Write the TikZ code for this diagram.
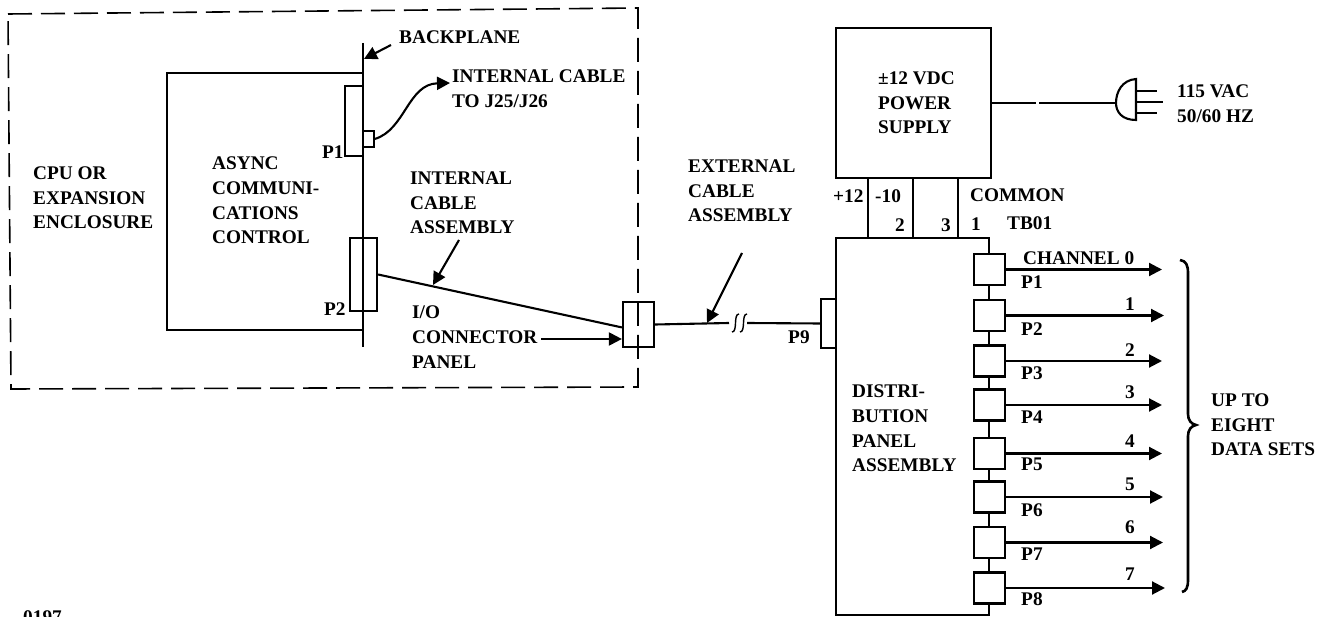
\documentclass[tikz,border=0pt]{standalone}
\usepackage{fontspec}
\setmainfont{Liberation Serif}
\usetikzlibrary{arrows.meta, positioning}
\tikzset{
  wire/.style={line width=2.1pt},
  dashline/.style={line width=1.6pt, dash pattern=on 24pt off 9pt},
  boxn/.style={draw, line width=2.2pt, inner sep=0pt, minimum width=#1},
  arr/.style={line width=2.1pt, -{Stealth[inset=0pt,length=13pt,width=13pt]}},
  lab/.style={anchor=west, inner sep=0pt, align=left, font=\bfseries\fontsize{19.3}{24.7}\selectfont},
}

\begin{document}
\begin{tikzpicture}[x=1pt, y=-1pt]
  \useasboundingbox (0,0) rectangle (1331,617);

  % enclosure and card
  \draw[dashline] (8,14) -- (638,8) -- (638,387) -- (11,389) -- cycle;
  \coordinate (bptop) at (363,43);
  \coordinate (bpbot) at (363,347);
  \draw[wire] (bptop) -- (bpbot);
  \draw[line width=2.2pt] (363,73) -- (167,73) -- (167,330) -- (363,330);

  % connectors on the backplane
  \node[boxn=18pt, minimum height=70pt] (pa) at (354,121) {};
  \node[boxn=27pt, minimum height=73pt] (pb) at (363.5,274.5) {};
  \node[boxn=11pt, minimum height=16pt, line width=1.4pt] (sm) at (368.5,139) {};
  \node[boxn=31pt, minimum height=45pt] (ioc) at (638.5,324.5) {};
  \node[boxn=15pt, minimum height=49pt] (pn) at (828.5,323.5) {};

  % power supply and distribution panel
  \node[boxn=155pt, minimum height=150pt] (pwr) at (913.5,103) {};
  \node[boxn=153pt, minimum height=377pt] (dist) at (912.5,426.5) {};
  \foreach \wx in {868,913,958}
    \draw[wire] (pwr.south -| \wx,0) -- (dist.north -| \wx,0);

  % channels
  \foreach \ch/\cy/\tip/\py in {0/269.5/1162/282, 1/315.5/1164/329, 2/361/1162/373, 3/405/1162/417,
                                4/453.5/1162/464, 5/497/1163/510, 6/542.5/1163/554, 7/588/1165/599} {
    \pgfmathtruncatemacro{\pn}{\ch+1}
    \node[boxn=31pt, minimum height=31pt, fill=white] (c\ch) at (989.5,\cy) {};
    \coordinate (t\ch) at (\tip,\cy);
    \draw[arr] (c\ch.east) -- (t\ch);
    \node[lab] (pl\ch) at (1021,\py) {P\pn};
  }
  \foreach \ch/\ny in {1/304, 2/350, 3/392, 4/441, 5/484, 6/527, 7/574}
    \node[lab] (n\ch) at (1125,\ny) {\ch};

  % cables
  \draw[wire] (pb.east) -- (ioc.190);
  \coordinate (cabtip) at (450,83);
  \draw[arr] (sm.east) .. controls (405,130) and (408,84) .. (cabtip);
  \coordinate (brka) at (729,323);
  \coordinate (brkb) at (747,323);
  \draw[wire] (ioc.east) -- (brka);
  \draw[wire] (brkb) -- (pn.west);
  \draw[line width=1.4pt] (732,332) .. controls (738,332) and (733,314) .. (739,314);
  \draw[line width=1.4pt] (740,332) .. controls (746,332) and (741,314) .. (747,314);

  % plug
  \coordinate (gapa) at (1036,103);
  \coordinate (gapb) at (1039,103);
  \coordinate (plg) at (1116,103);
  \draw[wire] (pwr.east) -- (gapa);
  \draw[wire] (gapb) -- (plg);
  \draw[wire] (1136,79) .. controls (1122,80) and (1116,92) .. (plg)
    .. controls (1116,112) and (1122,120) .. (1136,120) -- cycle;
  \draw[wire] (1136,91) -- (1157,91);
  \draw[wire] (1136,102) -- (1163,102);
  \draw[wire] (1136,113) -- (1157,113);

  % brace
  \draw[line width=2.6pt] (1180,260) .. controls (1186,261) and (1188,265) .. (1188,273)
    -- (1188,414) .. controls (1188,420) and (1191,424) .. (1196,425)
    .. controls (1191,426) and (1188,430) .. (1188,436)
    -- (1188,580) .. controls (1188,588) and (1186,591) .. (1182,592);

  % labels
  \node[lab] (bpl) at (399,37) {BACKPLANE};
  \node[lab] (icl) at (452,89) {INTERNAL CABLE\\TO J25/J26};
  \node[lab] (pal) at (322,152) {P1};
  \node[lab] (pbl) at (324,309) {P2};
  \node[lab] (acc) at (212,200.5) {ASYNC\\COMMUNI-\\CATIONS\\CONTROL};
  \node[lab] (cpu) at (33,198) {CPU OR\\EXPANSION\\ENCLOSURE};
  \node[lab] (ica) at (410,203) {INTERNAL\\CABLE\\ASSEMBLY};
  \node[lab] (iop) at (412,337) {I/O\\CONNECTOR\\PANEL};
  \node[lab] (eca) at (688,191) {EXTERNAL\\CABLE\\ASSEMBLY};
  \node[lab] (pnl) at (788,337) {P9};
  \node[lab] (psu) at (878,103) {±12 VDC\\POWER\\SUPPLY};
  \node[lab] (vac) at (1177,104) {115 VAC\\50/60 HZ};
  \node[lab] (vpl) at (833,196) {+12};
  \node[lab] (vmi) at (875,196) {-10};
  \node[lab] (com) at (970,195) {COMMON};
  \node[lab] (tbb) at (895,225) {2};
  \node[lab] (tbc) at (941,225) {3};
  \node[lab] (tba) at (971,224) {1};
  \node[lab] (tbn) at (1007,223) {TB01};
  \node[lab] (chz) at (1023,258) {CHANNEL 0};
  \node[lab] (dpa) at (852,428.5) {DISTRI-\\BUTION\\PANEL\\ASSEMBLY};
  \node[lab] (dts) at (1211,425) {UP TO\\EIGHT\\DATA SETS};
  \node[lab] (fig) at (23,617) {0197};

  % pointers
  \coordinate (ptba) at (391,45);
  \coordinate (ptbb) at (364,59);
  \draw[arr] (ptba) -- (ptbb);
  \coordinate (pica) at (459,240);
  \coordinate (picb) at (433,285);
  \draw[arr] (pica) -- (picb);
  \coordinate (pioa) at (541,339);
  \draw[arr] (pioa) -- (pioa -| ioc.west);
  \coordinate (peca) at (742,253);
  \coordinate (pecb) at (707,323);
  \draw[arr] (peca) -- (pecb);
\end{tikzpicture}
\end{document}
